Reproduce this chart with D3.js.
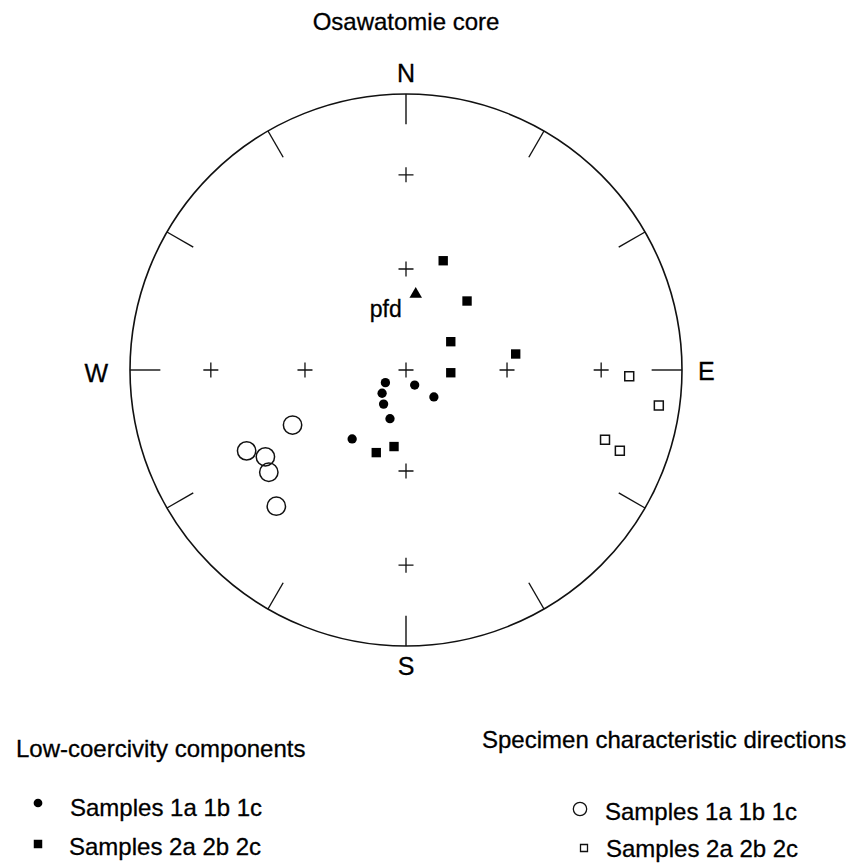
<!DOCTYPE html>
<html>
<head>
<meta charset="utf-8">
<script src="https://cdn.jsdelivr.net/npm/d3@7/dist/d3.min.js"></script>
<style>
  body { margin: 0; background: #fff; }
  svg { display: block; font-family: "Liberation Sans", Arial, sans-serif; }
  svg text { fill: #000; stroke: #000; stroke-width: 0.3px; }
</style>
</head>
<body>
<svg id="chart" width="848" height="863"></svg>
<script>
// directions as [declination, inclination] in degrees, lower hemisphere
const lowCoercivity1 = [[238.5, 82.9], [150.0, 84.9], [225.8, 80.2], [134.0, 78.6], [213.3, 78.0], [198.2, 74.9], [218.0, 64.1]];
const lowCoercivity2 = [[18.8, 55.6], [41.5, 62.7], [57.7, 74.4], [81.7, 57.0], [93.5, 76.8], [188.9, 67.1], [199.8, 64.0]];
const characteristic1 = [[244.1, 52.3], [243.1, 35.5], [238.3, 39.9], [233.3, 38.0], [223.6, 32.4]];
const characteristic2 = [[91.6, 20.2], [98.0, 8.3], [109.3, 24.6], [110.7, 18.3]];
const presentField = [[7.3, 67.4]];

const gridInclinations = [90, 60, 30];
const gridAzimuths = [0, 90, 180, 270];
const tickAzimuths = [0, 30, 60, 90, 120, 150, 180, 210, 240, 270, 300, 330];
const compassLabels = ['N', 'E', 'S', 'W'];

const title = 'Osawatomie core';
const legendLeftTitle = 'Low-coercivity components';
const legendRightTitle = 'Specimen characteristic directions';
const legendSamples = ['Samples 1a 1b 1c', 'Samples 2a 2b 2c'];

const svg = d3.select('#chart');
const cx = 406, cy = 370, R = 276;
const g = svg.append('g').attr('transform', `translate(${cx}, ${cy})`);

// equal-area (Schmidt) projection of inclination onto unit radius
const eqArea = (inc) => Math.SQRT2 * Math.sin((90 - Math.abs(inc)) / 2 * Math.PI / 180);
const rScale = d3.scaleLinear().domain([0, 1]).range([0, R]);
const angle = d3.scaleLinear().domain([0, 360]).range([0, 2 * Math.PI]);

function project([dec, inc]) {
  const r = rScale(eqArea(inc)),
        a = angle(dec);
  return [r * Math.sin(a), -r * Math.cos(a)];
}

// primitive circle
g.append('circle')
  .attr('r', R)
  .attr('fill', 'none')
  .attr('stroke', '#111')
  .attr('stroke-width', 1.6);

// 30 degree ticks on the rim
g.selectAll('line.tick')
  .data(tickAzimuths)
  .enter().append('line')
  .attr('class', 'tick')
  .attr('x1', (d) => rScale(1) * Math.sin(angle(d)))
  .attr('y1', (d) => -rScale(1) * Math.cos(angle(d)))
  .attr('x2', (d) => rScale(0.89) * Math.sin(angle(d)))
  .attr('y2', (d) => -rScale(0.89) * Math.cos(angle(d)))
  .attr('stroke', '#111')
  .attr('stroke-width', 1.4);

// grid crosses at inclinations 60 and 30 plus the centre
const crosses = [];
gridInclinations.forEach((inc) => {
  if (inc === 90) crosses.push([0, 90]);
  else gridAzimuths.forEach((az) => crosses.push([az, inc]));
});

g.selectAll('path.cross')
  .data(crosses)
  .enter().append('path')
  .attr('class', 'cross')
  .attr('transform', (d) => `translate(${project(d)})`)
  .attr('d', 'M-7.5,0H7.5M0,-7.5V7.5')
  .attr('stroke', '#111')
  .attr('stroke-width', 1.3);

// compass letters
const labelPos = {
  N: { x: 0, y: -R - 12, anchor: 'middle' },
  E: { x: R + 16, y: 10, anchor: 'start' },
  S: { x: 0, y: R + 29, anchor: 'middle' },
  W: { x: -R - 22, y: 12, anchor: 'end' },
};

g.selectAll('text.compass')
  .data(compassLabels)
  .enter().append('text')
  .attr('class', 'compass')
  .attr('x', (d) => labelPos[d].x)
  .attr('y', (d) => labelPos[d].y)
  .attr('text-anchor', (d) => labelPos[d].anchor)
  .attr('font-size', 25)
  .text((d) => d);

// data symbols
function plotSeries(data, type, size, filled) {
  g.append('g')
    .selectAll('path')
    .data(data)
    .enter().append('path')
    .attr('transform', (d) => `translate(${project(d)})`)
    .attr('d', d3.symbol().type(type).size(size))
    .attr('fill', filled ? '#000' : 'none')
    .attr('stroke', filled ? 'none' : '#111')
    .attr('stroke-width', 1.5);
}

plotSeries(lowCoercivity1, d3.symbolCircle, 68, true);
plotSeries(lowCoercivity2, d3.symbolSquare, 88, true);
plotSeries(characteristic1, d3.symbolCircle, 265, false);
plotSeries(characteristic2, d3.symbolSquare, 80, false);
plotSeries(presentField, d3.symbolTriangle, 68, true);

const pfd = project(presentField[0]);
g.append('text')
  .attr('x', pfd[0] - 14)
  .attr('y', pfd[1] + 23)
  .attr('text-anchor', 'end')
  .attr('font-size', 23)
  .text('pfd');

// title
svg.append('text')
  .attr('x', cx)
  .attr('y', 30)
  .attr('text-anchor', 'middle')
  .attr('font-size', 24)
  .text(title);

// legends
svg.append('text')
  .attr('x', 16)
  .attr('y', 757)
  .attr('font-size', 24)
  .text(legendLeftTitle);

svg.append('text')
  .attr('x', 482)
  .attr('y', 748)
  .attr('font-size', 24)
  .text(legendRightTitle);

const leftRows = [
  { type: d3.symbolCircle, size: 60, filled: true, x: 38, y: 803, tx: 70, ty: 816 },
  { type: d3.symbolSquare, size: 72, filled: true, x: 38, y: 844, tx: 69, ty: 855 },
];
const rightRows = [
  { type: d3.symbolCircle, size: 140, filled: false, x: 580, y: 809, tx: 605, ty: 820 },
  { type: d3.symbolSquare, size: 49, filled: false, x: 584, y: 848, tx: 606, ty: 857 },
];

leftRows.concat(rightRows).forEach((row, i) => {
  svg.append('path')
    .attr('transform', `translate(${row.x}, ${row.y})`)
    .attr('d', d3.symbol().type(row.type).size(row.size))
    .attr('fill', row.filled ? '#000' : 'none')
    .attr('stroke', row.filled ? 'none' : '#111')
    .attr('stroke-width', 1.3);
  svg.append('text')
    .attr('x', row.tx)
    .attr('y', row.ty)
    .attr('font-size', 24)
    .text(legendSamples[i % 2]);
});
</script>
</body>
</html>
